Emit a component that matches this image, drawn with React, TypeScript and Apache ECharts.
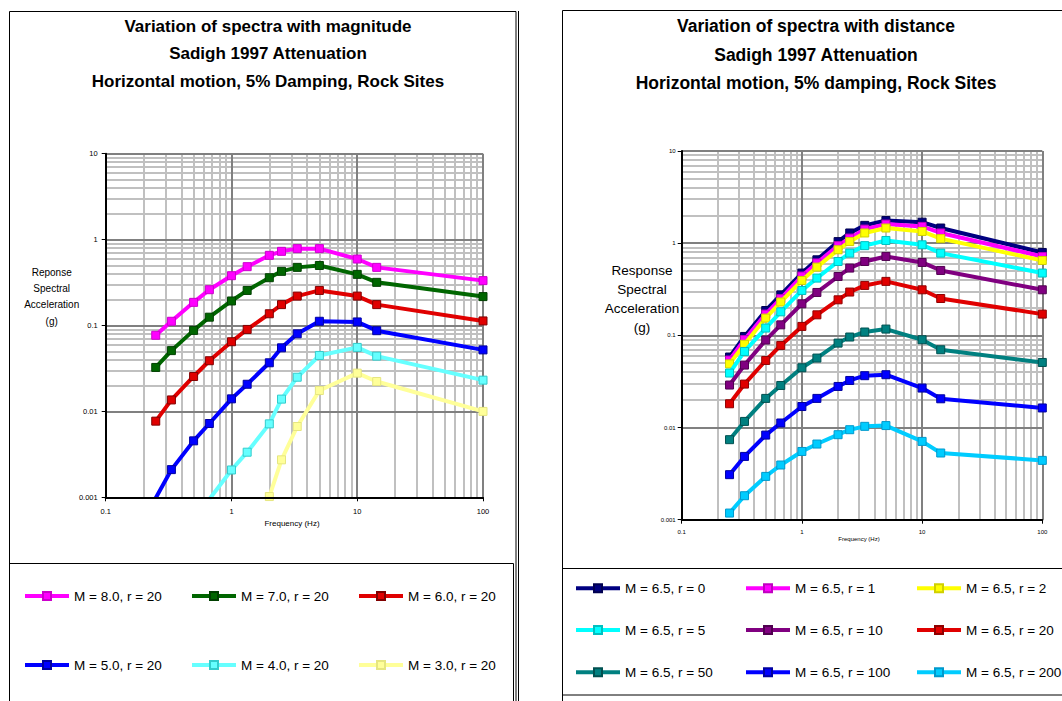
import React, { useEffect, useRef } from "react";
import * as echarts from "echarts";

// ---------- DATA ----------
const FREQ = [0.25, 0.333, 0.5, 0.667, 1, 1.333, 2, 2.5, 3.333, 5, 10, 14.286, 100];

const LEFT_NAMES = ["M = 8.0, r = 20", "M = 7.0, r = 20", "M = 6.0, r = 20", "M = 5.0, r = 20", "M = 4.0, r = 20", "M = 3.0, r = 20"];
const M8 = [0.077, 0.112, 0.186, 0.261, 0.38, 0.484, 0.656, 0.73, 0.785, 0.785, 0.594, 0.475, 0.333];
const M7 = [0.0325, 0.051, 0.0877, 0.125, 0.193, 0.256, 0.36, 0.427, 0.475, 0.5, 0.394, 0.318, 0.217];
const M6 = [0.0077, 0.0136, 0.0255, 0.0389, 0.0647, 0.09, 0.137, 0.175, 0.22, 0.256, 0.22, 0.175, 0.113];
const M5 = [0.00098, 0.0021, 0.00454, 0.00723, 0.014, 0.0207, 0.0368, 0.055, 0.08, 0.112, 0.11, 0.087, 0.052];
const M4 = [null, null, null, 0.00095, 0.00208, 0.00335, 0.00716, 0.0139, 0.025, 0.0448, 0.0556, 0.044, 0.0231];
const M3 = [null, null, null, null, null, 0.0002, 0.00102, 0.00273, 0.00667, 0.0175, 0.0279, 0.0223, 0.01];
const LEFT_VALUES = [M8, M7, M6, M5, M4, M3];
const LEFT_COLORS = ["#FF00FF", "#006600", "#E00000", "#0000FF", "#66FFFF", "#FFFF99"];
const LEFT_BORDERS = ["#CC00CC", "#004000", "#800000", "#0000A0", "#33CCCC", "#E6E680"];

const RIGHT_NAMES = ["M = 6.5, r = 0", "M = 6.5, r = 1", "M = 6.5, r = 2", "M = 6.5, r = 5", "M = 6.5, r = 10", "M = 6.5, r = 20", "M = 6.5, r = 50", "M = 6.5, r = 100", "M = 6.5, r = 200"];
const R0 = [0.0582, 0.0973, 0.186, 0.275, 0.474, 0.66, 1.04, 1.29, 1.56, 1.76, 1.69, 1.46, 0.793];
const R1 = [0.054, 0.09, 0.17, 0.25, 0.44, 0.61, 0.94, 1.135, 1.42, 1.61, 1.52, 1.29, 0.717];
const R2 = [0.049, 0.08, 0.154, 0.23, 0.394, 0.55, 0.848, 1.04, 1.29, 1.46, 1.34, 1.12, 0.649];
const R5 = [0.039, 0.0669, 0.12, 0.18, 0.307, 0.418, 0.633, 0.78, 0.94, 1.07, 0.96, 0.78, 0.474];
const R10 = [0.0289, 0.0476, 0.0889, 0.13, 0.22, 0.292, 0.435, 0.537, 0.633, 0.718, 0.618, 0.506, 0.312];
const R20 = [0.0181, 0.0296, 0.0534, 0.0777, 0.125, 0.167, 0.243, 0.295, 0.348, 0.385, 0.312, 0.251, 0.17];
const R50 = [0.00738, 0.01165, 0.0207, 0.0286, 0.0445, 0.0567, 0.0824, 0.0959, 0.1087, 0.117, 0.0896, 0.0698, 0.0508];
const R100 = [0.00308, 0.00486, 0.00828, 0.0112, 0.0169, 0.0207, 0.0279, 0.0324, 0.0365, 0.0374, 0.0268, 0.0205, 0.0163];
const R200 = [0.00118, 0.00182, 0.00295, 0.00392, 0.0055, 0.00662, 0.00836, 0.00947, 0.0103, 0.0105, 0.00707, 0.00529, 0.0044];
const RIGHT_VALUES = [R0, R1, R2, R5, R10, R20, R50, R100, R200];
const RIGHT_COLORS = ["#000080", "#FF00FF", "#FFFF00", "#00FFFF", "#800080", "#E00000", "#008080", "#0000FF", "#00CCFF"];
const RIGHT_BORDERS = ["#000050", "#C000C0", "#D0D000", "#00C0C0", "#500050", "#900000", "#005050", "#0000A0", "#0099CC"];

const LEFT_TITLE = ["Variation of spectra with magnitude", "Sadigh 1997 Attenuation", "Horizontal motion, 5% Damping, Rock Sites"];
const RIGHT_TITLE = ["Variation of spectra with distance", "Sadigh 1997 Attenuation", "Horizontal motion, 5% damping, Rock Sites"];
const LEFT_YTITLE = ["Reponse", "Spectral", "Acceleration", "(g)"];
const RIGHT_YTITLE = ["Response", "Spectral", "Acceleration", "(g)"];
const XTITLE = "Frequency (Hz)";

const X_DECADES = [0.1, 1, 10];
const Y_DECADES = [0.001, 0.01, 0.1, 1];
const X_MAJOR = [1, 10, 100];
const Y_MAJOR = [0.01, 0.1, 1, 10];

const FONT = 'Arial, "Liberation Sans", Helvetica, sans-serif';

function minorValues(decades: number[]) {
  const out: number[] = [];
  decades.forEach((d) => {
    for (let k = 2; k <= 9; k++) out.push(parseFloat((k * d).toPrecision(6)));
  });
  return out;
}

function gridLineData() {
  const minor = () => ({ color: "#C0C0C0", width: 2, type: "solid" });
  const major = () => ({ color: "#808080", width: 2, type: "solid" });
  return [
    ...minorValues(X_DECADES).map((v) => ({ xAxis: v, lineStyle: minor() })),
    ...minorValues(Y_DECADES).map((v) => ({ yAxis: v, lineStyle: minor() })),
    ...X_MAJOR.map((v) => ({ xAxis: v, lineStyle: major() })),
    ...Y_MAJOR.map((v) => ({ yAxis: v, lineStyle: major() })),
  ];
}

const fmt = (v: number) => String(parseFloat(Number(v).toPrecision(6)));

export default function App() {
  const ref = useRef<HTMLDivElement>(null);

  useEffect(() => {
    if (!ref.current) return;
    const chart = echarts.init(ref.current, null, { renderer: "svg" });

    const axisCommon = (fontSize: number, margin: number) => ({
      type: "log",
      logBase: 10,
      axisLine: { show: true, lineStyle: { color: "#000", width: 2 } },
      axisTick: { show: true, length: 4, inside: false, lineStyle: { color: "#000", width: 1 } },
      axisLabel: { fontSize, margin, color: "#000", fontFamily: FONT, formatter: fmt },
      splitLine: { show: false },
      minorTick: { show: false },
      minorSplitLine: { show: false },
      z: 20,
    });

    const xAxis = [
      { ...axisCommon(7.5, 10), gridIndex: 0, min: 0.1, max: 100 },
      { ...axisCommon(6, 9), gridIndex: 1, min: 0.1, max: 100 },
    ];
    const yAxis = [
      { ...axisCommon(7.5, 8), gridIndex: 0, min: 0.001, max: 10 },
      { ...axisCommon(6, 6), gridIndex: 1, min: 0.001, max: 10 },
    ];

    const dummy = (idx: number) => ({
      type: "line",
      name: "__grid" + idx,
      xAxisIndex: idx,
      yAxisIndex: idx,
      data: [],
      z: 1,
      silent: true,
      markLine: {
        silent: true,
        symbol: ["none", "none"],
        label: { show: false },
        animation: false,
        data: gridLineData(),
      },
    });

    const makeSeries = (names: string[], values: (number | null)[][], colors: string[], borders: string[], idx: number) =>
      names.map((name, i) => ({
        type: "line",
        name,
        xAxisIndex: idx,
        yAxisIndex: idx,
        data: FREQ.map((f, j) => [f, values[i][j]]),
        symbol: "rect",
        symbolSize: 8,
        showSymbol: true,
        lineStyle: { color: colors[i], width: 4, type: "solid" },
        itemStyle: { color: colors[i], borderColor: borders[i], borderWidth: 1 },
        emphasis: { disabled: true },
        z: 10 + i,
        clip: true,
        connectNulls: false,
      }));

    const LEFT_LEG_X = [23, 190, 357];
    const LEFT_LEG_Y = [596, 665];
    const RIGHT_LEG_X = [574, 744, 915];
    const RIGHT_LEG_Y = [588.3, 630, 672.3];

    const legendItem = (name: string, left: number, cy: number) => ({
      data: [name],
      left,
      top: cy - 8,
      padding: 0,
      itemWidth: 44,
      itemHeight: 10,
      selectedMode: false,
      lineStyle: { width: 4 },
      textStyle: { fontSize: 13.5, color: "#000", fontFamily: FONT, lineHeight: 16 },
    });

    const legends = [
      ...LEFT_NAMES.map((n, i) => legendItem(n, LEFT_LEG_X[i % 3], LEFT_LEG_Y[Math.floor(i / 3)])),
      ...RIGHT_NAMES.map((n, i) => legendItem(n, RIGHT_LEG_X[i % 3], RIGHT_LEG_Y[Math.floor(i / 3)])),
    ];

    const txt = (text: string, x: number, y: number, size: number, bold = false) => ({
      type: "text",
      x,
      y,
      silent: true,
      style: {
        text,
        fill: "#000",
        fontSize: size,
        fontWeight: bold ? "bold" : "normal",
        fontFamily: FONT,
        align: "center",
        verticalAlign: "middle",
      },
    });

    const rect = (x: number, y: number, w: number, h: number) => ({
      type: "rect",
      silent: true,
      shape: { x, y, width: w, height: h },
      style: { fill: "none", stroke: "#000", lineWidth: 1 },
    });

    const graphics: any[] = [
      rect(9.5, 11.5, 506.5, 720),
      { type: "line", silent: true, shape: { x1: 518.5, y1: 11, x2: 518.5, y2: 720 }, style: { stroke: "#000", lineWidth: 1 } },
      rect(9.5, 563.5, 504, 200),
      rect(562.5, 10.5, 600, 800),
      rect(562.5, 568.5, 600, 126.5),
      ...LEFT_TITLE.map((t, i) => txt(t, 268, 26 + i * 27.8, 17, true)),
      ...RIGHT_TITLE.map((t, i) => txt(t, 816, 26 + i * 28.6, 17.5, true)),
      ...LEFT_YTITLE.map((t, i) => txt(t, 51.7, 272.7 + i * 16.1, 10)),
      ...RIGHT_YTITLE.map((t, i) => txt(t, 642, 270.7 + i * 19, 13.5)),
      txt(XTITLE, 292, 523.3, 8),
      txt(XTITLE, 859, 539, 6),
    ];

    chart.setOption({
      animation: false,
      backgroundColor: "#fff",
      grid: [
        { left: 105.7, top: 153.7, width: 377.3, height: 343.6, containLabel: false },
        { left: 681.7, top: 151, width: 360.6, height: 368.7, containLabel: false },
      ],
      xAxis,
      yAxis,
      legend: legends,
      graphic: graphics,
      series: [
        dummy(0),
        dummy(1),
        ...makeSeries(LEFT_NAMES, LEFT_VALUES, LEFT_COLORS, LEFT_BORDERS, 0),
        ...makeSeries(RIGHT_NAMES, RIGHT_VALUES, RIGHT_COLORS, RIGHT_BORDERS, 1),
      ],
    });

    return () => chart.dispose();
  }, []);

  return (
    <div
      ref={ref}
      style={{ position: "absolute", left: 0, top: 0, width: 1062, height: 701, background: "#fff" }}
    />
  );
}
